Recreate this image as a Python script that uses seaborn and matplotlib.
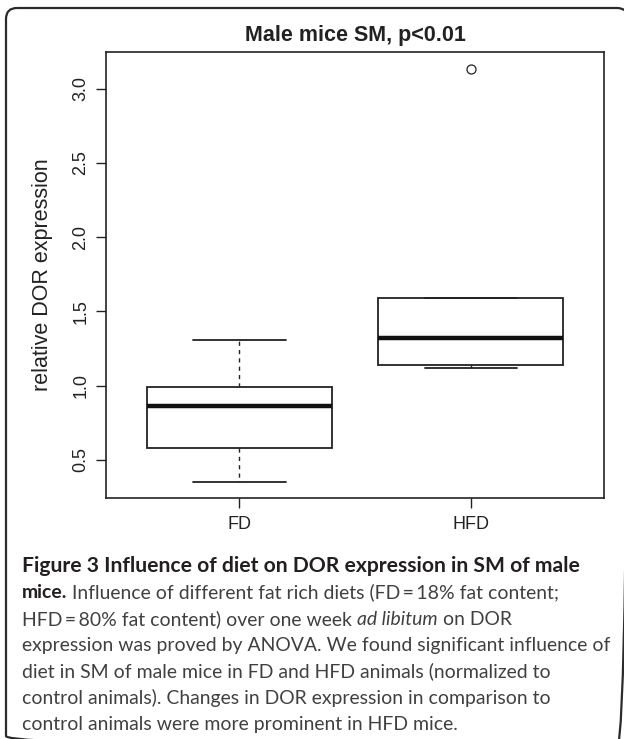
import numpy as np
import pandas as pd
import matplotlib
matplotlib.use("Agg")
import matplotlib.pyplot as plt
import seaborn as sns
from matplotlib.patches import FancyBboxPatch

# ---------------- data ----------------
diets = ["FD", "HFD"]
fd_values = [0.35, 0.58, 0.86, 0.99, 1.31]
hfd_values = [1.12, 1.14, 1.32, 1.59, 3.13]
yticks = [0.5, 1.0, 1.5, 2.0, 2.5, 3.0]
ytick_labels = ["0.5", "1.0", "1.5", "2.0", "2.5", "3.0"]
title = "Male mice SM, p<0.01"
ylabel = "relative DOR expression"

caption_lines = [
    [("Figure 3 Influence of diet on DOR expression in SM of male", "b")],
    [("mice.", "b"), (" Influence of different fat rich diets (FD\u2009=\u200918% fat content;", "r")],
    [("HFD\u2009=\u200980% fat content) over one week ", "r"), ("ad libitum", "i"), (" on DOR", "r")],
    [("expression was proved by ANOVA. We found significant influence of", "r")],
    [("diet in SM of male mice in FD and HFD animals (normalized to", "r")],
    [("control animals). Changes in DOR expression in comparison to", "r")],
    [("control animals were more prominent in HFD mice.", "r")],
]

df = pd.DataFrame({
    "diet": ["FD"] * len(fd_values) + ["HFD"] * len(hfd_values),
    "value": fd_values + hfd_values,
})

# ---------------- style ----------------
sns.set_theme(style="ticks")
plt.rcParams["font.family"] = ["Liberation Sans", "DejaVu Sans"]

W, H = 624, 739
fig = plt.figure(figsize=(W / 100, H / 100), dpi=100)
fig.patch.set_facecolor("white")

# overlay in pixel coordinates for the frame and caption
ov = fig.add_axes([0, 0, 1, 1], zorder=0)
ov.set_xlim(0, W)
ov.set_ylim(H, 0)
ov.axis("off")
frame = FancyBboxPatch((6, 8), 622, 739, boxstyle="round,pad=0,rounding_size=11",
                       fill=False, ec="#2b2b2b", lw=1.6)
ov.add_patch(frame)

# main plot
ax = fig.add_axes([106 / W, 1 - 498 / H, (604.3 - 106) / W, (498 - 52.3) / H], zorder=2)
sns.boxplot(
    data=df, x="diet", y="value", order=diets, ax=ax,
    width=0.8, color="white", linecolor="#222222", linewidth=1.3, whis=1.5,
    fliersize=6.5,
    flierprops=dict(marker="o", markersize=6.5, markerfacecolor="none",
                    markeredgecolor="#222222", markeredgewidth=0.9),
    medianprops=dict(linewidth=3.2, color="#111111"),
    whiskerprops=dict(linestyle=(0, (3, 3)), linewidth=1.0),
    capprops=dict(linewidth=1.3),
)
ax.set_xlim(-0.577, 1.577)
ax.set_ylim(0.243, 3.244)
ax.set_yticks(yticks)
ax.set_yticklabels(ytick_labels, rotation=90, va="center")
ax.set_xlabel("")
ax.set_ylabel(ylabel, fontsize=15.5, color="#222222")
ax.yaxis.set_label_coords((53 - 106) / (604.3 - 106), 0.5)
for s in ax.spines.values():
    s.set_visible(True)
    s.set_color("#222222")
    s.set_linewidth(1.2)
ax.tick_params(axis="both", length=7, width=1.0, color="#222222",
               labelsize=13, labelcolor="#222222", direction="out")
ax.tick_params(axis="y", pad=5)
ax.tick_params(axis="x", pad=6)

fig.text(355 / W, 1 - 36 / H, title, ha="center", va="center",
         fontsize=15.5, fontweight="bold", color="#222222")

# ---------------- caption ----------------
fig.canvas.draw()
renderer = fig.canvas.get_renderer()
cap_family = ["Lato", "DejaVu Sans"]
style_kw = {
    "b": dict(fontweight="bold", color="#231f20"),
    "r": dict(fontweight="normal", color="#404040"),
    "i": dict(fontweight="normal", fontstyle="italic", color="#404040"),
}


def adv(s, fs, st):
    kw = dict(fontsize=fs, family=cap_family, **style_kw[st])
    t1 = ov.text(0, 0, "|" + s + "|", **kw)
    t2 = ov.text(0, 0, "||", **kw)
    w = t1.get_window_extent(renderer).width - t2.get_window_extent(renderer).width
    t1.remove()
    t2.remove()
    return w


# fit body font size so the longest line spans the measured width
ref_line = caption_lines[3][0][0]
w12 = adv(ref_line, 12, "r")
fs_body = 12 * 586.0 / w12
w12b = adv(caption_lines[0][0][0], 12, "b")
fs_bold = 12 * 556.0 / w12b
fs = fs_body

x0 = 22
base0 = 572
step = 26.4
for i, runs in enumerate(caption_lines):
    x = x0
    y = base0 + i * step
    for text, st in runs:
        f = fs_bold if (i == 0) else fs
        ov.text(x, y, text, ha="left", va="baseline", fontsize=f,
                family=cap_family, **style_kw[st])
        x += adv(text, f, st)

fig.savefig("out.png", dpi=100, facecolor="white")
